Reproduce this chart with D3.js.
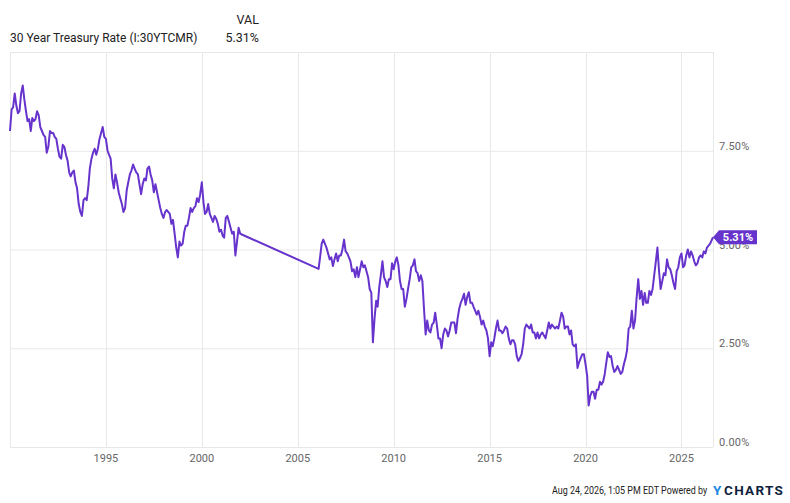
<!DOCTYPE html>
<html><head><meta charset="utf-8">
<script src="https://cdn.jsdelivr.net/npm/d3@7"></script>
<style>
html,body{margin:0;padding:0;background:#fff;}
svg{display:block;font-family:Roboto,"Noto Sans",sans-serif;}
</style></head>
<body><svg id="c" width="790" height="503"></svg>
<script>
// ---- data (monthly, percent) ----
const seriesName = "30 Year Treasury Rate (I:30YTCMR)";
const lastLabel = "5.31%";
const lastDate = "2026-08-24";
const domainStart = "1990-01-01";
const seg1Start = "1990-01";
const seg1Values = [
 8.00,8.55,8.60,8.95,8.65,8.45,8.50,8.95,9.15,8.80,8.50,8.25,
 8.30,8.00,8.33,8.25,8.30,8.50,8.40,8.10,8.00,7.90,7.85,7.45,
 7.60,8.00,7.95,7.95,7.85,7.80,7.55,7.35,7.30,7.65,7.60,7.40,
 7.25,6.95,6.85,6.95,7.00,6.70,6.55,6.15,5.95,5.85,6.25,6.30,
 6.25,6.60,7.05,7.30,7.45,7.55,7.40,7.55,7.80,7.95,8.10,7.85,
 7.80,7.50,7.40,7.30,6.80,6.55,6.90,6.70,6.45,6.30,6.15,5.95,
 6.05,6.50,6.70,6.90,7.00,7.15,7.05,6.95,6.90,6.65,6.40,6.65,
 6.80,6.75,7.05,7.10,6.90,6.75,6.45,6.65,6.45,6.25,6.05,5.90,
 5.80,5.95,6.00,5.95,5.90,5.65,5.75,5.40,5.05,4.80,5.20,5.10,
 5.15,5.45,5.60,5.60,5.80,6.05,5.95,6.05,6.10,6.30,6.20,6.40,
 6.70,6.20,5.90,5.95,6.15,5.90,5.80,5.70,5.85,5.78,5.65,5.45,
 5.50,5.35,5.30,5.80,5.85,5.70,5.55,5.40,5.45,4.85,5.20,5.55,
 5.40,5.38
];
const seg2Start = "2006-02";
const seg2Values = [
 4.51,4.80,5.15,5.25,5.15,5.05,4.90,4.75,4.80,4.58,4.75,
 4.90,4.70,4.85,4.85,5.00,5.25,4.95,4.90,4.80,4.70,4.45,4.50,
 4.30,4.55,4.30,4.50,4.70,4.55,4.60,4.45,4.30,4.00,3.90,2.65,
 3.25,3.70,3.55,4.05,4.35,4.70,4.30,4.20,4.05,4.25,4.25,4.65,
 4.50,4.70,4.80,4.60,4.20,4.00,4.00,3.55,3.75,4.00,4.25,4.55,
 4.60,4.75,4.45,4.40,4.20,4.35,4.20,3.50,2.85,3.20,2.95,2.90,
 3.10,3.15,3.40,3.10,2.75,2.75,2.50,2.85,3.00,2.95,2.80,2.95,
 3.15,3.15,3.15,2.88,3.25,3.50,3.65,3.75,3.88,3.60,3.80,3.92,
 3.65,3.65,3.55,3.45,3.35,3.45,3.30,3.10,3.20,3.05,2.95,2.75,
 2.30,2.65,2.55,2.75,3.00,3.20,2.95,2.95,2.88,2.95,3.05,3.00,
 2.75,2.60,2.70,2.70,2.60,2.30,2.18,2.25,2.35,2.60,3.00,3.10,
 3.05,3.00,3.10,2.90,2.90,2.75,2.90,2.75,2.85,2.90,2.82,2.75,
 2.95,3.15,3.00,3.10,3.05,3.00,3.05,3.00,3.20,3.40,3.30,3.00,
 3.05,3.05,2.85,2.95,2.60,2.55,2.60,2.00,2.15,2.25,2.35,2.35,
 2.10,1.80,1.05,1.30,1.40,1.40,1.22,1.45,1.45,1.65,1.58,1.65,
 1.85,2.15,2.40,2.28,2.30,2.05,1.90,1.95,2.05,1.95,1.85,1.90,
 2.10,2.25,2.45,3.00,3.05,3.45,3.00,3.20,3.80,4.25,3.75,3.95,
 3.60,3.90,3.65,3.65,3.95,3.85,4.00,4.35,4.70,5.05,4.45,4.00,
 4.20,4.40,4.35,4.75,4.55,4.50,4.35,4.15,4.00,4.45,4.55,4.80,
 4.90,4.55,4.60,4.85,5.00,4.80,4.95,4.85,4.70,4.60,4.65,4.80,
 4.85,4.80,4.95,4.90,5.05,5.10,5.15,5.31
];
const yTicks = [0, 2.5, 5, 7.5];
const xTickYears = [1995, 2000, 2005, 2010, 2015, 2020, 2025];
const footerText = "Aug 24, 2026, 1:05 PM EDT Powered by";

// ---- build rows ----
const parseM = d3.timeParse("%Y-%m");
const parseD = d3.timeParse("%Y-%m-%d");
function build(start, vals){
  const s = parseM(start);
  return vals.map((v,i)=>({date:d3.timeMonth.offset(s,i), value:v}));
}
const rows = build(seg1Start, seg1Values).concat(build(seg2Start, seg2Values));
rows[rows.length-1].date = parseD(lastDate);

// ---- layout ----
const svg = d3.select("#c");
const L = 10, R = 713, T = 52, B = 447;
const x = d3.scaleTime().domain([parseD(domainStart), parseD(lastDate)]).range([L, R]);
const y = d3.scaleLinear().domain([0, 10]).range([B, T]);
const grid = "#e8e8e8";

// horizontal grid
svg.append("g").selectAll("line").data(yTicks.concat([10])).join("line")
  .attr("x1", L).attr("x2", R).attr("y1", d=>y(d)+0.5).attr("y2", d=>y(d)+0.5)
  .attr("stroke", grid).attr("stroke-width",1);
// vertical grid
const vTicks = xTickYears.map(yr=>new Date(yr,0,1));
svg.append("g").selectAll("line").data(vTicks).join("line")
  .attr("x1", d=>Math.round(x(d))+0.5).attr("x2", d=>Math.round(x(d))+0.5)
  .attr("y1", T).attr("y2", B).attr("stroke", grid);
svg.append("line").attr("x1",L+0.5).attr("x2",L+0.5).attr("y1",T).attr("y2",B).attr("stroke",grid);
svg.append("line").attr("x1",R+0.5).attr("x2",R+0.5).attr("y1",T).attr("y2",B).attr("stroke",grid);

// right axis labels
svg.append("g").selectAll("text").data(yTicks).join("text")
  .attr("x", 719).attr("y", d=>y(d)-1)
  .attr("font-size", 11).attr("fill", "#666").attr("letter-spacing","0.2")
  .text(d=>d3.format(".2f")(d)+"%");

// bottom axis labels
svg.append("g").selectAll("text").data(vTicks).join("text")
  .attr("x", d=>x(d)).attr("y", 462).attr("text-anchor","middle")
  .attr("font-size", 11).attr("fill", "#666")
  .text(d=>d3.timeFormat("%Y")(d));

// line
const line = d3.line().x(d=>x(d.date)).y(d=>y(d.value));
svg.append("path").datum(rows).attr("d", line)
  .attr("fill","none").attr("stroke","#6633cc").attr("stroke-width",2)
  .attr("stroke-linejoin","round");

// last value badge
const last = rows[rows.length-1];
const bx = x(last.date), by = y(last.value);
svg.append("path")
  .attr("d", `M${bx},${by} L${bx+6},${by-7} L${bx+44},${by-7} L${bx+44},${by+7} L${bx+6},${by+7} Z`)
  .attr("fill","#6633cc");
svg.append("text").attr("x", bx+25).attr("y", by+4).attr("text-anchor","middle")
  .attr("font-size",11).attr("font-weight","bold").attr("fill","#fff").text(lastLabel);

// legend
svg.append("text").attr("x",10).attr("y",42).attr("font-size",12).attr("fill","#222").text(seriesName);
svg.append("text").attr("x",259).attr("y",24).attr("text-anchor","end").attr("font-size",12.5).attr("fill","#222").text("VAL");
svg.append("text").attr("x",259).attr("y",42).attr("text-anchor","end").attr("font-size",12.5).attr("fill","#222").text(lastLabel);

// footer (horizontally condensed)
svg.append("g").attr("transform","translate(552,494) scale(0.85,1)")
  .append("text").attr("x",0).attr("y",0).attr("font-size",10.5).attr("fill","#222").text(footerText);
svg.append("text").attr("x",713).attr("y",495).attr("font-size",13.5).attr("font-weight","bold")
  .attr("fill","#1e88e5").text("Y");
svg.append("text").attr("x",724).attr("y",495).attr("font-size",13.5).attr("font-weight","bold")
  .attr("fill","#0f1f3d").attr("letter-spacing","1.3").text("CHARTS");
</script>
</body></html>
